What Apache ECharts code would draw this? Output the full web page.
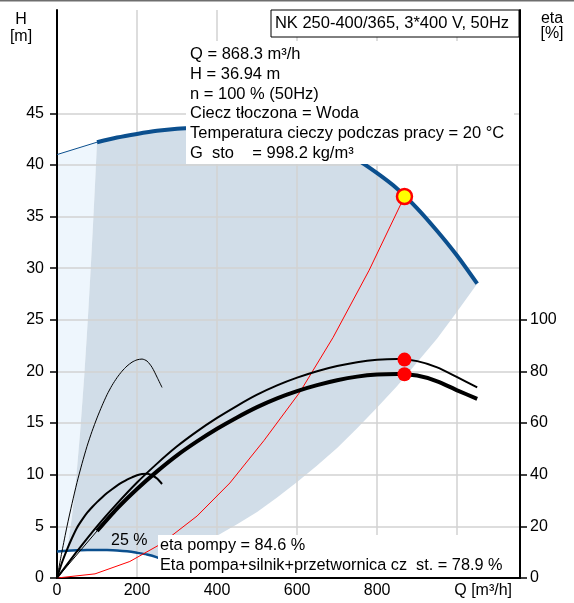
<!DOCTYPE html>
<html>
<head>
<meta charset="utf-8">
<script src="https://cdn.jsdelivr.net/npm/echarts@6/dist/echarts.min.js"></script>
<style>
html,body{margin:0;padding:0;background:#fff;}
#c{width:574px;height:603px;}
</style>
</head>
<body>
<div id="c"></div>
<script>
// ---- data ----
// pump head curve at 100 % speed (thin part, then thick part)
const headThinQ = [0, 50, 100];
const headThinH = [41.0, 41.6, 42.2];
const headQ = [100, 150, 200, 250, 300, 350, 400, 450, 500, 550, 600, 650, 700, 750, 800, 850, 900, 950, 1000, 1050];
const headH = [42.2, 42.65, 43.0, 43.3, 43.5, 43.6, 43.65, 43.6, 43.4, 43.1, 42.7, 42.1, 41.4, 40.5, 39.2, 37.7, 35.8, 33.6, 31.2, 28.5];
// pump head curve at 25 % speed
const head25Q = [0, 25, 50, 75, 100, 125, 150, 175, 200, 225, 250, 262];
const head25H = [2.56, 2.64, 2.69, 2.72, 2.72, 2.70, 2.66, 2.58, 2.44, 2.27, 2.0, 1.78];
// left and right boundary of the operating range (top -> bottom)
const leftQ = [100, 95, 90, 84, 77, 68, 58, 48, 37, 25];
const leftH = [42.2, 38.1, 34.2, 29.8, 25.0, 19.5, 14.2, 9.7, 5.8, 2.64];
const rightQ = [1050, 1000, 950, 900, 850, 800, 750, 700, 650, 600, 550, 500, 450, 400, 350, 300, 262];
const rightH = [28.5, 25.8, 23.2, 20.9, 18.6, 16.5, 14.5, 12.6, 10.9, 9.3, 7.8, 6.4, 5.2, 4.1, 3.2, 2.3, 1.78];
// system curve
const sysQ = [0, 95, 182, 260, 350, 432, 517, 607, 690, 780, 868.3];
const sysH = [0, 0.4, 1.6, 3.3, 6.0, 9.2, 13.3, 18.0, 23.3, 29.8, 36.94];
// pump efficiency at 100 % speed
const etaPQ = [0, 50, 100, 150, 200, 250, 300, 350, 400, 450, 500, 550, 600, 650, 700, 750, 800, 850, 900, 950, 1000, 1050];
const etaP = [0, 10.3, 20, 28.8, 37, 44.3, 51, 56.8, 62, 66.7, 71, 74.6, 77.6, 80.1, 82.1, 83.6, 84.5, 84.8, 84.0, 81.6, 77.8, 73.8];
// total efficiency (pump+motor+VFD) at 100 % speed
const etaTThinQ = [0, 100];
const etaTThin = [0, 18.2];
const etaTQ = [100, 150, 200, 250, 300, 350, 400, 450, 500, 550, 600, 650, 700, 750, 800, 850, 900, 950, 1000, 1050];
const etaT = [18.2, 26.9, 34.5, 41.3, 47.5, 52.9, 57.8, 62.2, 66.2, 69.6, 72.4, 74.7, 76.6, 78.0, 78.8, 79.0, 78.4, 76.2, 72.7, 69.4];
// efficiencies at 25 % speed
const eta25PQ = [0, 12.5, 25, 37.5, 50, 62.5, 75, 87.5, 100, 112.5, 125, 137.5, 150, 162.5, 175, 187.5, 200, 212.5, 225, 237.5, 250, 262.5];
const eta25P = [0, 10.3, 20, 28.8, 37, 44.3, 51, 56.8, 62, 66.7, 71, 74.6, 77.6, 80.1, 82.1, 83.6, 84.5, 84.8, 84.0, 81.6, 77.8, 73.8];
const eta25TQ = [0, 12.5, 25, 37.5, 50, 62.5, 75, 87.5, 100, 112.5, 125, 137.5, 150, 162.5, 175, 187.5, 200, 212.5, 225, 237.5, 250, 262.5];
const eta25T = [0, 6, 11, 15.5, 19.5, 22.5, 25.2, 27.4, 29.4, 31.2, 32.9, 34.4, 35.8, 37, 38.1, 39, 39.8, 40.3, 40.4, 39.8, 38.5, 36.4];
// duty point
const dutyQ = 868.3;
const dutyH = 36.94;
const dutyEtaP = 84.6;
const dutyEtaT = 78.9;
// axes ticks
const xTickValues = [0, 200, 400, 600, 800, 1000];
const xTickLabels = ['0', '200', '400', '600', '800', 'Q [m³/h]'];
const hTickValues = [0, 5, 10, 15, 20, 25, 30, 35, 40, 45];
const etaTickValues = [0, 20, 40, 60, 80, 100];

// ---- helpers ----
const zip = (a, b) => a.map((v, i) => [v, b[i]]);
const headThinPts = zip(headThinQ, headThinH);
const headPts = zip(headQ, headH);
const head25Pts = zip(head25Q, head25H);
const leftPts = zip(leftQ, leftH);
const rightPts = zip(rightQ, rightH);

// dark operating range: 100 % curve -> right boundary -> 25 % curve (back) -> left boundary (up)
const darkPoly = []
  .concat(headPts)
  .concat(rightPts.slice(1))
  .concat(head25Pts.filter(p => p[0] > 25 && p[0] < 262).reverse())
  .concat(leftPts.slice().reverse());
// light region left of the operating range
const lightPoly = []
  .concat(headThinPts)
  .concat(leftPts.slice(1))
  .concat(head25Pts.filter(p => p[0] < 25).reverse());

const FONT = 'Liberation Sans, Arial, sans-serif';
const BLUE = '#0b4f8e';

const gridLineColors = [0, 5, 10, 15, 20, 25, 30, 35, 40, 45, 50, 55].map(v => v === 55 ? 'rgba(0,0,0,0)' : '#d2d2d2');

const polySeries = (pts, color) => ({
  type: 'custom',
  coordinateSystem: 'cartesian2d',
  xAxisIndex: 0, yAxisIndex: 0,
  silent: true, z: 0,
  data: [0],
  renderItem: (params, api) => ({
    type: 'polygon',
    shape: { points: pts.map(p => api.coord(p)) },
    style: { fill: color }
  })
});

const lineSeries = (pts, color, width, yIdx, smooth) => ({
  type: 'line',
  yAxisIndex: yIdx,
  data: pts,
  showSymbol: false,
  symbol: 'none',
  smooth: smooth,
  lineStyle: { color: color, width: width },
  silent: true,
  z: 3
});

const chart = echarts.init(document.getElementById('c'));
chart.setOption({
  animation: false,
  backgroundColor: '#fff',
  grid: { left: 57, right: 54, top: 10, bottom: 25, containLabel: false },
  xAxis: {
    type: 'value', min: 0, max: 1157, interval: 200, z: 1,
    axisLine: { onZero: false, lineStyle: { color: '#000', width: 2 } },
    axisTick: { show: false },
    axisLabel: {
      customValues: xTickValues,
      formatter: v => v === 1000 ? '{q|' + xTickLabels[xTickValues.indexOf(v)] + '}' : xTickLabels[xTickValues.indexOf(v)],
      color: '#000', fontSize: 16, fontFamily: FONT, margin: 5,
      rich: { q: { fontSize: 16, fontFamily: FONT, color: '#000', padding: [0, 0, 0, 52] } }
    },
    splitLine: { show: true, lineStyle: { color: '#d2d2d2', width: 1.5 } }
  },
  yAxis: [{
    type: 'value', min: 0, max: 55, interval: 5, position: 'left', z: 1,
    axisLine: { show: true, onZero: false, lineStyle: { color: '#000', width: 2 } },
    axisTick: { show: true, customValues: hTickValues, length: 7, lineStyle: { color: '#000', width: 1.5 } },
    axisLabel: { customValues: hTickValues, color: '#000', fontSize: 16, fontFamily: FONT, margin: 13 },
    splitLine: { show: true, lineStyle: { color: gridLineColors, width: 1.5 } }
  }, {
    type: 'value', min: 0, max: 220, interval: 20, position: 'right', z: 1,
    axisLine: { show: true, onZero: false, lineStyle: { color: '#000', width: 2 } },
    axisTick: { show: true, customValues: etaTickValues, length: 7, lineStyle: { color: '#000', width: 1.5 } },
    axisLabel: { customValues: etaTickValues, color: '#000', fontSize: 16, fontFamily: FONT, margin: 10 },
    splitLine: { show: false }
  }],
  series: [
    polySeries(lightPoly, '#eef6fd'),
    polySeries(darkPoly, '#d1dde8'),
    lineSeries(headThinPts, BLUE, 1, 0, false),
    lineSeries(headPts, BLUE, 4, 0, 0.25),
    lineSeries(head25Pts, BLUE, 2.5, 0, 0.25),
    lineSeries(zip(sysQ, sysH), '#ff0000', 1, 0, false),
    lineSeries(zip(etaTThinQ, etaTThin), '#000', 1, 1, false),
    lineSeries(zip(etaTQ, etaT), '#000', 4, 1, 0.25),
    lineSeries(zip(etaPQ, etaP), '#000', 2, 1, 0.25),
    lineSeries(zip(eta25PQ, eta25P), '#000', 1, 1, 0.25),
    lineSeries(zip(eta25TQ, eta25T), '#000', 2, 1, 0.25),
    {
      type: 'scatter', yAxisIndex: 0, z: 6, silent: true,
      data: [[dutyQ, dutyH]], symbol: 'circle', symbolSize: 15,
      itemStyle: { color: '#ffff00', borderColor: '#ff0000', borderWidth: 2.5, opacity: 1 }
    },
    {
      type: 'scatter', yAxisIndex: 1, z: 6, silent: true,
      data: [[dutyQ, dutyEtaP], [dutyQ, dutyEtaT]], symbol: 'circle', symbolSize: 14,
      itemStyle: { color: '#ff0000', opacity: 1 }
    }
  ],
  graphic: [
    { type: 'rect', z: 50, shape: { x: 0, y: 0, width: 574, height: 1.5 }, style: { fill: '#6e6e6e' } },
    { type: 'text', z: 50, x: 21, y: 11, style: { text: 'H\n[m]', font: '16px ' + FONT, fill: '#000', align: 'center', lineHeight: 17 } },
    { type: 'text', z: 50, x: 552, y: 11, style: { text: 'eta\n[%]', font: '16px ' + FONT, fill: '#000', align: 'center', lineHeight: 15 } },
    { type: 'rect', z: 50, shape: { x: 271, y: 10, width: 248, height: 27 }, style: { fill: '#fff', stroke: '#000', lineWidth: 1 } },
    { type: 'text', z: 51, x: 392, y: 23.5, style: { text: 'NK 250-400/365, 3*400 V, 50Hz', font: '16.5px ' + FONT, fill: '#000', align: 'center', verticalAlign: 'middle' } },
    { type: 'rect', z: 50, shape: { x: 186, y: 41, width: 328, height: 123 }, style: { fill: '#fff' } },
    { type: 'text', z: 51, x: 190, y: 45, style: {
      text: 'Q = 868.3 m³/h\nH = 36.94 m\nn = 100 % (50Hz)\nCiecz tłoczona = Woda\nTemperatura cieczy podczas pracy = 20 °C\nG  sto    = 998.2 kg/m³',
      font: '16.5px ' + FONT, fill: '#000', lineHeight: 19.7 } },
    { type: 'rect', z: 50, shape: { x: 158, y: 535, width: 350, height: 42 }, style: { fill: '#fff' } },
    { type: 'text', z: 51, x: 160, y: 536, style: {
      text: 'eta pompy = 84.6 %\nEta pompa+silnik+przetwornica cz  st. = 78.9 %',
      font: '16.3px ' + FONT, fill: '#000', lineHeight: 20 } },
    { type: 'text', z: 51, x: 111, y: 541, style: { text: '25 %', font: '16px ' + FONT, fill: '#000', verticalAlign: 'middle' } }
  ]
});
</script>
</body>
</html>
